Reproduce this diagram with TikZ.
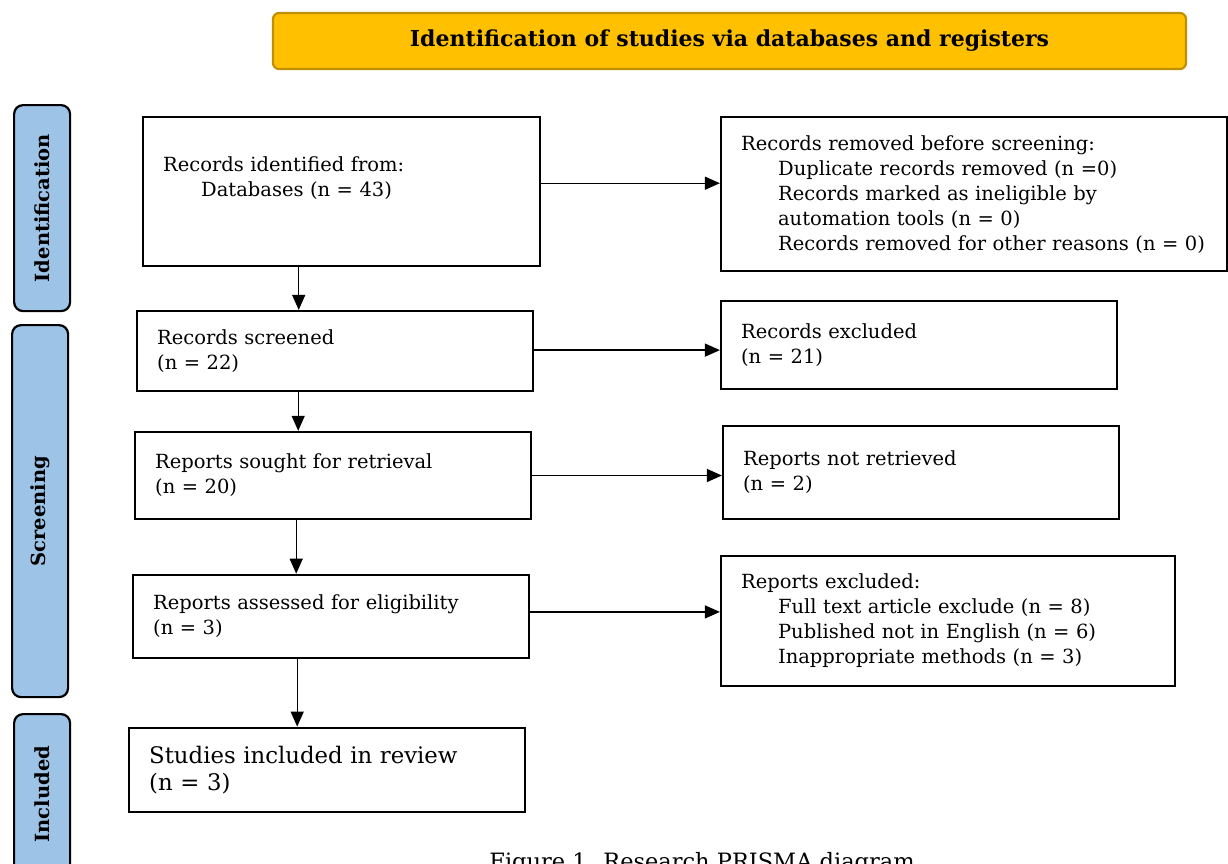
\documentclass[tikz,border=0pt]{standalone}
\usepackage{fontspec}
\setmainfont{DejaVu Serif}
\usetikzlibrary{arrows.meta,positioning,calc}
\definecolor{headfill}{RGB}{255,192,0}
\definecolor{headline}{RGB}{191,144,0}
\definecolor{phasefill}{RGB}{157,195,230}

\begin{document}
\begin{tikzpicture}[
  x=1pt, y=-1pt,
  box/.style={draw, line width=2.4pt, inner xsep=20pt, inner ysep=0pt,
    align=left, font=\fontsize{19.5}{25}\selectfont},
  phase/.style={draw, line width=2.2pt, rounded corners=9pt, fill=phasefill,
    minimum width=56pt, inner sep=0pt, font=\bfseries\fontsize{19.5}{22}\selectfont},
  head/.style={draw=headline, fill=headfill, line width=2.2pt, rounded corners=6pt,
    minimum width=913pt, minimum height=56pt, font=\bfseries\fontsize{22}{24}\selectfont},
  arrow/.style={-{Triangle[length=15pt, width=13pt]}, line width=1.3pt}
]
\useasboundingbox (0,0) rectangle (1228,863);

% header and phase bars
\node[head] (head) at (729.5,41) {Identification of studies via databases and registers};
\node[phase, minimum height=206pt, anchor=north west] (pid) at (13,104)
  {\rotatebox{90}{Identification}};
\node[phase, minimum height=372pt, anchor=north west] (pscr) at (11,324)
  {\rotatebox{90}{Screening}};
\node[phase, minimum height=160pt, anchor=north west] (pinc) at (13,713)
  {\rotatebox{90}{Included}};

% main column
\node[box, text width=357pt, minimum height=149pt, anchor=north west] (idf) at (142,116)
  {Records identified from:\\\hspace*{38pt}Databases (n = 43)\\[6pt]\mbox{}};
\node[box, text width=356pt, minimum height=80pt,
  below=42.5pt of idf.south west, anchor=north west, xshift=-6pt] (scr)
  {Records screened\\(n = 22)};
\node[box, text width=356pt, minimum height=87pt,
  below=38.5pt of scr.south west, anchor=north west, xshift=-2pt] (srt)
  {Reports sought for retrieval\\(n = 20)};
\node[box, text width=356pt, minimum height=83pt,
  below=53.5pt of srt.south west, anchor=north west, xshift=-2pt] (ase)
  {Reports assessed for eligibility\\(n = 3)};
\node[box, text width=356pt, minimum height=84pt, font=\fontsize{22.8}{27}\selectfont,
  below=67.5pt of ase.south west, anchor=north west, xshift=-4pt] (inc)
  {Studies included in review\\(n = 3)};

% side column
\node[box, text width=466pt, minimum height=154pt,
  right=178.5pt of idf.north east, anchor=north west] (rem)
  {Records removed before screening:\\
   \hspace*{37pt}Duplicate records removed (n =0)\\
   \hspace*{37pt}Records marked as ineligible by\\
   \hspace*{37pt}automation tools (n = 0)\\
   \hspace*{37pt}Records removed for other reasons (n = 0)};
\node[box, text width=356pt, minimum height=88pt,
  right=185.5pt of scr.north east, anchor=north west, yshift=10pt] (exc)
  {Records excluded\\(n = 21)};
\node[box, text width=356pt, minimum height=93pt,
  right=189.5pt of srt.north east, anchor=north west, yshift=6pt] (nrt)
  {Reports not retrieved\\(n = 2)};
\node[box, text width=414pt, minimum height=130pt,
  right=189.5pt of ase.north east, anchor=north west, yshift=19pt] (rxc)
  {Reports excluded:\\
   \hspace*{37pt}Full text article exclude (n = 8)\\
   \hspace*{37pt}Published not in English (n = 6)\\
   \hspace*{37pt}Inappropriate methods (n = 3)};

\node[font=\fontsize{22.5}{26}\selectfont, anchor=base] (cap) at (702,869)
  {Figure 1. Research PRISMA diagram};

% flow
\draw[arrow] ([xshift=-43pt]idf.south) -- ([xshift=-43pt]idf.south |- scr.north);
\draw[arrow] ([xshift=-37pt]scr.south) -- ([xshift=-37pt]scr.south |- srt.north);
\draw[arrow] ([xshift=-37pt]srt.south) -- ([xshift=-37pt]srt.south |- ase.north);
\draw[arrow] ([xshift=-34pt]ase.south) -- ([xshift=-34pt]ase.south |- inc.north);

\draw[arrow] ([yshift=8.5pt]idf.east) -- ([yshift=8.5pt]idf.east -| rem.west);
\draw[arrow] ([yshift=1pt]scr.east) -- ([yshift=1pt]scr.east -| exc.west);
\draw[arrow] (srt.east) -- (srt.east -| nrt.west);
\draw[arrow] ([yshift=4.5pt]ase.east) -- ([yshift=4.5pt]ase.east -| rxc.west);

\end{tikzpicture}
\end{document}
